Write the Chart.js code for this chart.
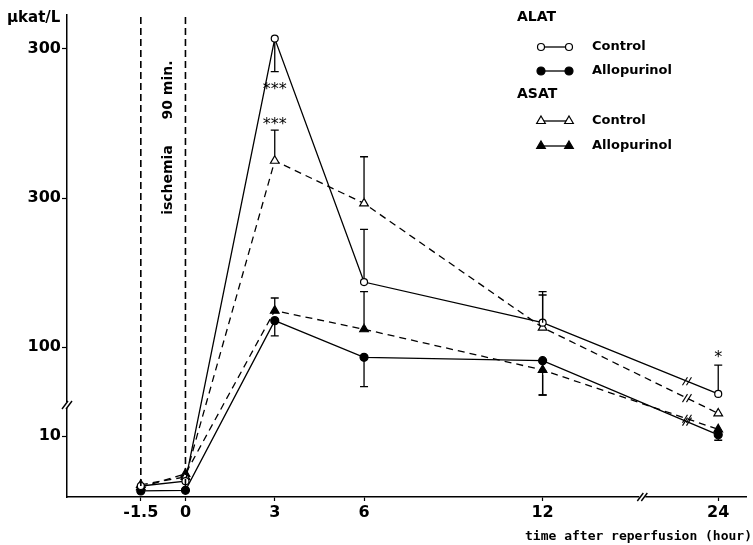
<!DOCTYPE html>
<html>
  <head>
    <title>ALAT / ASAT after reperfusion</title>
    <script src="https://cdn.jsdelivr.net/npm/chart.js"></script>
    <style>
      html, body { margin: 0; padding: 0; background: #fff; }
      canvas { display: block; }
    </style>
  </head>
  <body>
    <canvas id="enzymeChart" width="753" height="545"></canvas>

    <script>
  // time points (hour), 24 h sits behind the axis break
  const times = [-1.5, 0, 3, 6, 12, 24];
  const xTickLabels = ['-1.5', '0', '3', '6', '12', '24'];

  // y ticks (real units) and the labels as printed
  const yTickValues = [10, 100, 200, 300];
  const yTickLabels = ['10', '100', '300', '300'];

  // means, µkat/L
  const alatControl = [1.8, 2.6, 307, 143.6, 116.3, 68.5];
  const alatAllopurinol = [1.0, 1.1, 117.7, 93.1, 90.8, 10.2];
  const asatControl = [2.0, 3.3, 225, 196.4, 113, 13.7];
  const asatAllopurinol = [1.6, 3.8, 124.4, 111.9, 84.6, 11.1];

  // end of each error bar (one side only), µkat/L
  const alatControlErr = [null, null, 284.8, 179, 134.9, 87.9];
  const alatAllopurinolErr = [null, null, 107.4, 73.4, 67.8, 9.3];
  const asatControlErr = [null, null, 245.6, 227.7, 137.1, null];
  const asatAllopurinolErr = [null, null, 132.9, 137.1, 67.8, null];

  // significance marks: [time, value, text]
  const stars = [[3, 274.5, '***'], [3, 251, '***'], [24, 94.6, '*']];

  // broken axes: x after 12 h is squeezed, y below ~15 is stretched
  const axisX = t => (t === 24 ? 17.9 : t);
  const axisY = v => (v <= 15.1 ? v * 6.1 : 150 + (v - 100) * 1.49);

  const toPoints = arr => arr.map((v, i) => ({ x: axisX(times[i]), y: axisY(v) }));

  const series = [
    { label: 'ALAT Control', data: alatControl, err: alatControlErr, dash: [], style: 'circle', fill: '#fff', r: 3.5 },
    { label: 'ALAT Allopurinol', data: alatAllopurinol, err: alatAllopurinolErr, dash: [], style: 'circle', fill: '#000', r: 4 },
    { label: 'ASAT Control', data: asatControl, err: asatControlErr, dash: [7, 5], style: 'triangle', fill: '#fff', r: 5 },
    { label: 'ASAT Allopurinol', data: asatAllopurinol, err: asatAllopurinolErr, dash: [7, 5], style: 'triangle', fill: '#000', r: 5 }
  ];

  const datasets = series.map(s => ({
    label: s.label,
    data: toPoints(s.data),
    borderColor: '#000',
    borderWidth: 1.3,
    borderDash: s.dash,
    pointStyle: s.style,
    pointRadius: s.r,
    pointBorderWidth: 1.2,
    pointBackgroundColor: s.fill,
    pointBorderColor: '#000',
    tension: 0
  }));

  const extras = {
    id: 'extras',
    afterDatasetsDraw(chart) {
      const { ctx, scales: { x, y }, chartArea } = chart;
      ctx.save();
      ctx.strokeStyle = '#000';
      ctx.fillStyle = '#000';

      // ischemia period
      ctx.setLineDash([7, 4]);
      ctx.lineWidth = 1.6;
      [-1.5, 0].forEach(t => {
        const px = x.getPixelForValue(t);
        ctx.beginPath();
        ctx.moveTo(px, 17);
        ctx.lineTo(px, chartArea.bottom - 4);
        ctx.stroke();
      });
      ctx.setLineDash([]);

      ctx.save();
      ctx.translate(168, 0);
      ctx.rotate(-Math.PI / 2);
      ctx.font = 'bold 14px "DejaVu Sans"';
      ctx.textAlign = 'center';
      ctx.textBaseline = 'middle';
      ctx.fillText('90 min.', -90, 0);
      ctx.fillText('ischemia', -180, 0);
      ctx.restore();

      // error bars
      ctx.lineWidth = 1.3;
      series.forEach(s => {
        s.err.forEach((e, i) => {
          if (e === null) return;
          const px = x.getPixelForValue(axisX(times[i]));
          const y0 = y.getPixelForValue(axisY(s.data[i]));
          const y1 = y.getPixelForValue(axisY(e));
          ctx.beginPath();
          ctx.moveTo(px, y0 + (y1 > y0 ? s.r : -s.r));
          ctx.lineTo(px, y1);
          ctx.moveTo(px - 4, y1);
          ctx.lineTo(px + 4, y1);
          ctx.stroke();
        });
      });

      // little // marks on the lines behind the break
      ctx.lineWidth = 1.1;
      series.forEach(s => {
        const xa = x.getPixelForValue(axisX(12)), xb = x.getPixelForValue(axisX(24));
        const ya = y.getPixelForValue(axisY(s.data[4])), yb = y.getPixelForValue(axisY(s.data[5]));
        const mx = x.getPixelForValue(16.85);
        const my = ya + (yb - ya) * (mx - xa) / (xb - xa);
        [-2, 2].forEach(d => {
          ctx.beginPath();
          ctx.moveTo(mx + d - 2.5, my + 4);
          ctx.lineTo(mx + d + 2.5, my - 4);
          ctx.stroke();
        });
      });

      // stars
      ctx.font = '16px "DejaVu Sans"';
      ctx.textAlign = 'center';
      ctx.textBaseline = 'middle';
      stars.forEach(([t, v, txt]) => {
        ctx.fillText(txt, x.getPixelForValue(axisX(t)), y.getPixelForValue(axisY(v)) + 3);
      });

      // axis breaks
      const breakMark = (cx, cy) => {
        ctx.fillStyle = '#fff';
        ctx.fillRect(cx - 3, cy - 3, 6, 6);
        ctx.fillStyle = '#000';
        ctx.lineWidth = 1.4;
        [-2, 2].forEach(d => {
          ctx.beginPath();
          ctx.moveTo(cx + d - 3, cy + 4);
          ctx.lineTo(cx + d + 3, cy - 4);
          ctx.stroke();
        });
      };
      breakMark(chartArea.left, 405);
      breakMark(x.getPixelForValue(15.35), chartArea.bottom);

      // unit label and axis title
      ctx.textAlign = 'left';
      ctx.textBaseline = 'middle';
      ctx.font = 'bold 15px "DejaVu Sans"';
      ctx.fillText('\u03bckat/L', 7, 18);
      ctx.textAlign = 'right';
      ctx.font = 'bold 13px "DejaVu Sans Mono"';
      ctx.fillText('time after reperfusion (hour)', 752, 537);

      // legend
      ctx.textAlign = 'left';
      ctx.font = 'bold 14px "DejaVu Sans"';
      ctx.fillText('ALAT', 517, 17);
      ctx.fillText('ASAT', 517, 94);
      ctx.font = 'bold 13px "DejaVu Sans"';
      const rows = [[0, 47, 'Control'], [1, 71, 'Allopurinol'], [2, 121, 'Control'], [3, 146, 'Allopurinol']];
      rows.forEach(([i, ry, txt]) => {
        const s = series[i];
        ctx.strokeStyle = '#000';
        ctx.lineWidth = 1.3;
        ctx.beginPath();
        ctx.moveTo(541, ry);
        ctx.lineTo(569, ry);
        ctx.stroke();
        [541, 569].forEach(mx => {
          ctx.fillStyle = s.fill;
          ctx.lineWidth = 1.2;
          Chart.helpers.drawPoint(ctx, { pointStyle: s.style, radius: s.r, borderWidth: 1.2 }, mx, ry);
        });
        ctx.fillStyle = '#000';
        ctx.fillText(txt, 592, ry);
      });
      ctx.restore();
    }
  };

  new Chart(document.getElementById('enzymeChart'), {
    type: 'line',
    data: { datasets: datasets },
    plugins: [extras],
    options: {
      responsive: false,
      animation: false,
      devicePixelRatio: 1,
      layout: { padding: { top: 15, right: 3, left: 0, bottom: 0 } },
      plugins: { legend: { display: false }, tooltip: { enabled: false } },
      scales: {
        x: {
          type: 'linear',
          min: -3.98,
          max: 18.86,
          border: { color: '#000', width: 1.5 },
          grid: { drawOnChartArea: false, color: '#000', tickLength: 4, tickWidth: 1.2 },
          ticks: {
            autoSkip: false,
            maxRotation: 0,
            padding: 2,
            color: '#000',
            font: { family: 'DejaVu Sans', weight: 'bold', size: 16 },
            callback: (v, i) => xTickLabels[i]
          },
          afterBuildTicks: axis => { axis.ticks = times.map(t => ({ value: axisX(t) })); },
          afterFit: scale => { scale.height = 48; }
        },
        y: {
          min: 0,
          max: 482,
          border: { color: '#000', width: 1.5 },
          grid: { drawOnChartArea: false, color: '#000', tickLength: 5, tickWidth: 1.2 },
          ticks: {
            autoSkip: false,
            padding: 1,
            color: '#000',
            font: { family: 'DejaVu Sans', weight: 'bold', size: 16 },
            callback: (v, i) => yTickLabels[i]
          },
          afterBuildTicks: axis => { axis.ticks = yTickValues.map(v => ({ value: axisY(v) })); },
          afterFit: scale => { scale.width = 67; }
        }
      }
    }
  });
</script>
  </body>
</html>
